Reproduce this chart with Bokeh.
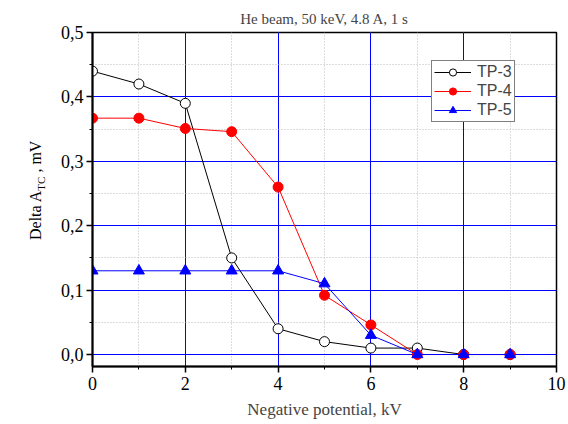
from bokeh.plotting import figure
from bokeh.models import (Range1d, SingleIntervalTicker, CustomJSTickFormatter,
                          Legend, LegendItem, Div)
from bokeh.layouts import row
from bokeh.embed import file_html
from bokeh.resources import INLINE

x_kv = [0, 1, 2, 3, 4, 5, 6, 7, 8, 9]
tp3 = [0.44, 0.42, 0.39, 0.15, 0.04, 0.02, 0.01, 0.01, 0.0, 0.0]
tp4 = [0.367, 0.367, 0.351, 0.346, 0.26, 0.092, 0.046, 0.0, 0.0, 0.0]
tp5 = [0.13, 0.13, 0.13, 0.13, 0.13, 0.11, 0.03, 0.0, 0.0, 0.0]
series_names = ["TP-3", "TP-4", "TP-5"]

SERIF = "Liberation Serif"
SANS = "Liberation Sans"

DIV_W = 50

p = figure(width=568 - DIV_W, height=424, output_backend="svg", toolbar_location=None,
           x_range=Range1d(0, 10), y_range=Range1d(-0.0186, 0.5),
           min_border_left=92 - DIV_W, min_border_right=12, min_border_top=32, min_border_bottom=58,
           title="He beam, 50 keV, 4.8 A, 1 s")
p.title.align = "center"
p.title.text_font = SERIF
p.title.text_font_size = "15px"
p.title.text_font_style = "normal"
p.title.offset = 0
p.title.standoff = 12

p.outline_line_color = "black"
p.outline_line_width = 1.5

p.xaxis.ticker = SingleIntervalTicker(interval=2, num_minor_ticks=2)
p.yaxis.ticker = SingleIntervalTicker(interval=0.1, num_minor_ticks=2)
p.yaxis.formatter = CustomJSTickFormatter(code="return tick.toFixed(1).replace('.', ',');")
p.xaxis.formatter = CustomJSTickFormatter(code="return tick.toFixed(0);")

for ax in (p.xaxis, p.yaxis):
    ax.axis_line_width = 2
    ax.axis_line_color = "black"
    ax.major_tick_line_color = "black"
    ax.minor_tick_line_color = "black"
    ax.major_tick_line_width = 1.5
    ax.major_tick_out = 6
    ax.major_tick_in = 0
    ax.minor_tick_out = 3
    ax.minor_tick_in = 0
    ax.major_label_text_font = SERIF
    ax.major_label_text_font_size = "18px"
    ax.major_label_text_color = "black"

p.xaxis.axis_label = "Negative potential, kV"
p.xaxis.axis_label_text_font = SERIF
p.xaxis.axis_label_text_font_size = "17px"
p.xaxis.axis_label_text_font_style = "normal"
p.xaxis.axis_label_standoff = 7
p.xaxis.major_label_standoff = 4
p.yaxis.major_label_standoff = 3

for g in (p.xgrid, p.ygrid):
    g.grid_line_color = "#0000ff"
    g.grid_line_width = 1
    g.minor_grid_line_color = "#bbbbbb"
    g.minor_grid_line_dash = "1 2"
    g.minor_grid_line_width = 1

r3l = p.line(x_kv, tp3, line_color="black", line_width=1)
r3m = p.scatter(x_kv, tp3, marker="circle", size=10, fill_color="white", line_color="black", line_width=1)
r4l = p.line(x_kv, tp4, line_color="red", line_width=1)
r4m = p.scatter(x_kv, tp4, marker="circle", size=10, fill_color="red", line_color="red")
r5l = p.line(x_kv, tp5, line_color="blue", line_width=1)
r5m = p.scatter(x_kv, tp5, marker="triangle", size=11, fill_color="blue", line_color="blue")

legend = Legend(items=[
    LegendItem(label=series_names[0], renderers=[r3l, r3m]),
    LegendItem(label=series_names[1], renderers=[r4l, r4m]),
    LegendItem(label=series_names[2], renderers=[r5l, r5m]),
], location=(339, 244))
legend.border_line_color = "black"
legend.border_line_width = 1
legend.background_fill_color = "white"
legend.background_fill_alpha = 1
legend.label_text_font = SANS
legend.label_text_font_size = "16px"
legend.glyph_width = 37
legend.glyph_height = 18
legend.label_height = 18
legend.label_standoff = 6
legend.padding = 2
legend.spacing = 1
legend.margin = 0
p.add_layout(legend, "center")

# y-axis label with subscript, as rotated HTML text
ylab_html = (
    '<div style="position:absolute; left:28px; top:240px; transform:rotate(-90deg); '
    'transform-origin:0 0; white-space:nowrap; font-family:\'Liberation Serif\'; '
    'font-size:16px; line-height:16px; color:black;">'
    'Delta A<span style="font-size:11px; position:relative; top:4px;">TC</span> , mV</div>'
)
ylab = Div(text=ylab_html, width=DIV_W, height=424, margin=0,
           styles={"overflow": "visible", "position": "relative"})

layout = row(ylab, p, spacing=0)
open("out.html", "w").write(file_html(layout, INLINE))
